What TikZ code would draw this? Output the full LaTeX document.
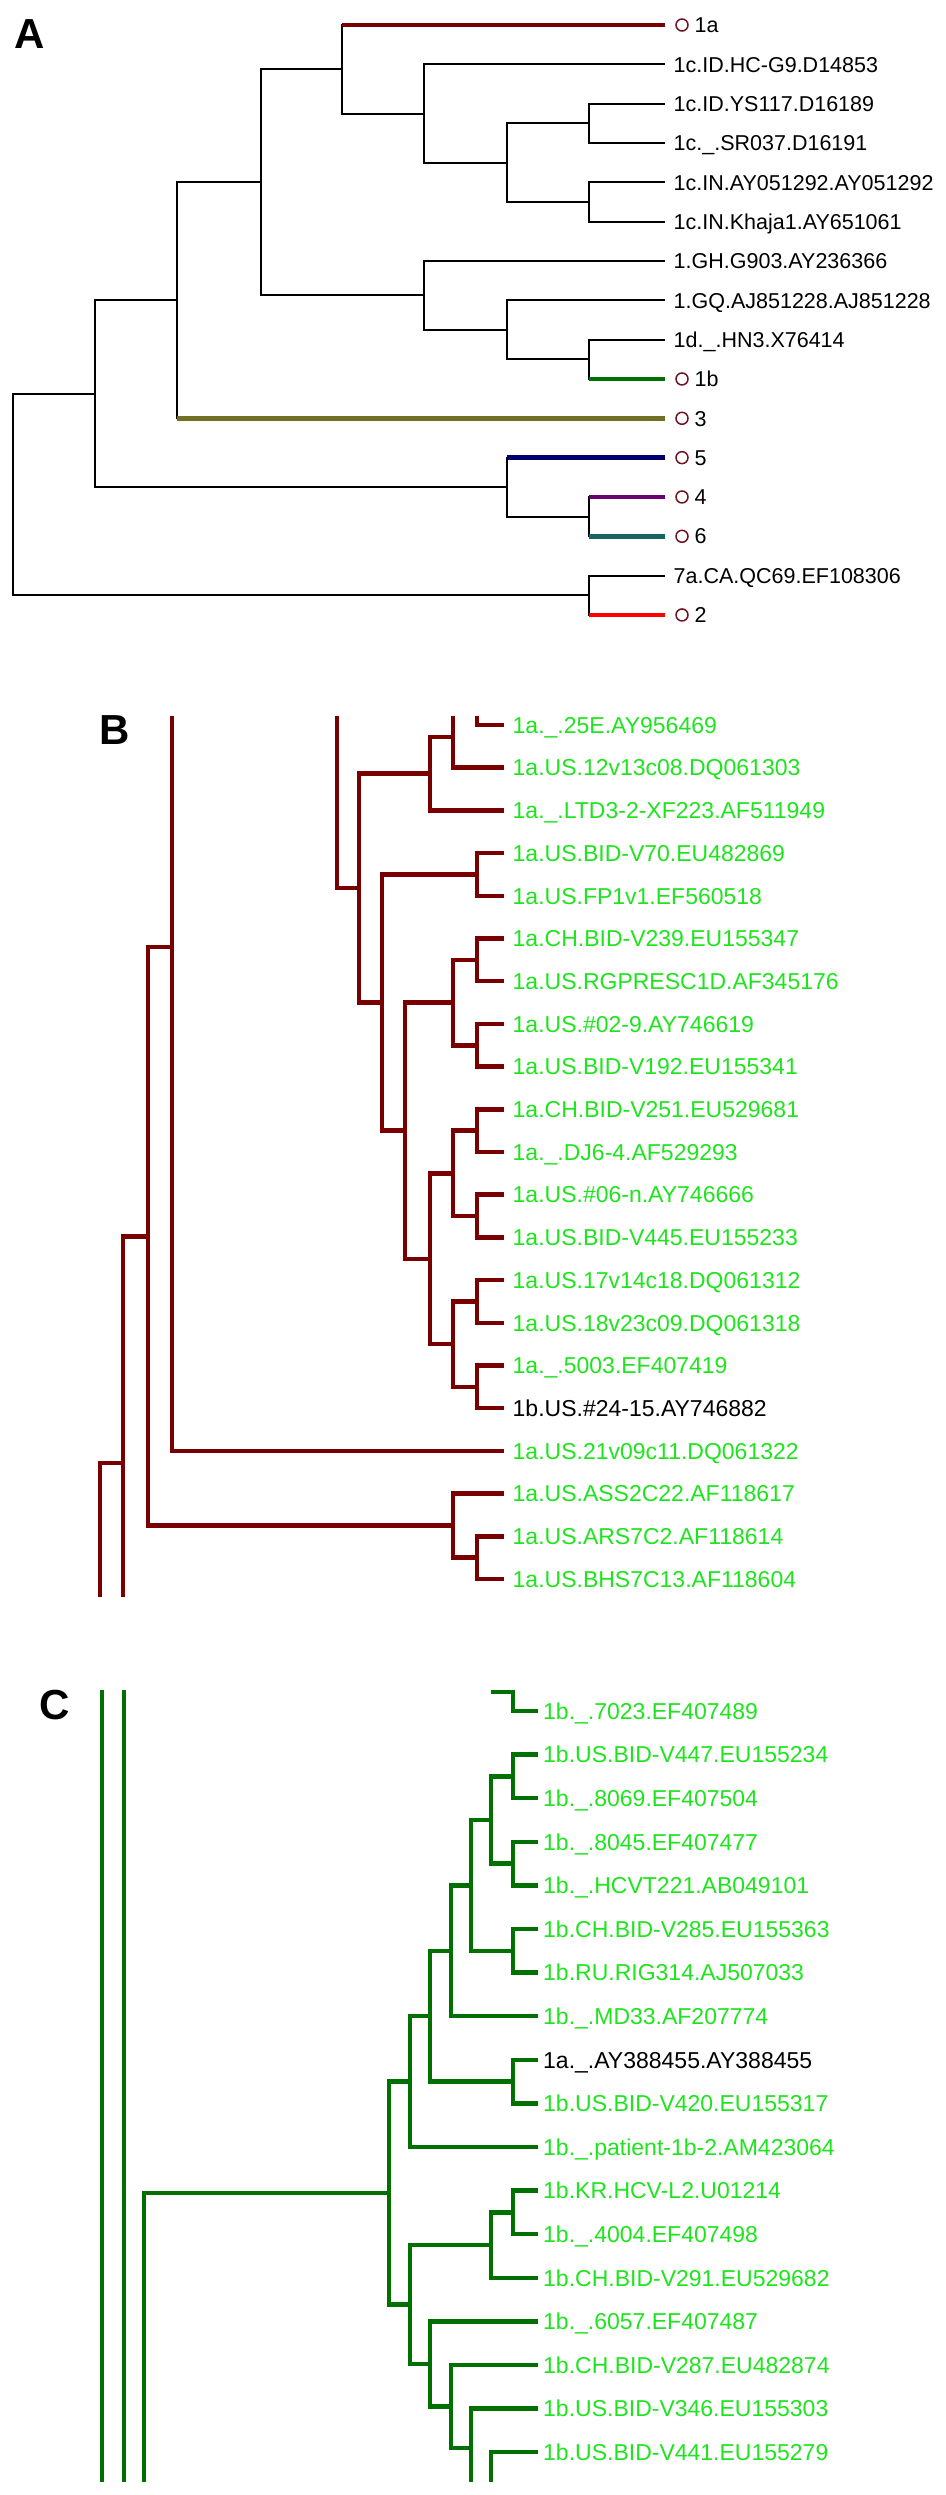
\documentclass[tikz,border=0pt]{standalone}
\usepackage{fontspec}
\setmainfont{Liberation Sans}
\definecolor{gtone}{RGB}{120,0,0}
\definecolor{gtoneb}{RGB}{0,112,0}
\definecolor{gtthree}{RGB}{112,112,36}
\definecolor{gtfive}{RGB}{0,0,110}
\definecolor{gtfour}{RGB}{104,0,112}
\definecolor{gtsix}{RGB}{24,100,100}
\definecolor{gttwo}{RGB}{255,0,0}
\definecolor{ringred}{RGB}{110,20,30}
\definecolor{lblgreen}{RGB}{30,228,30}
\begin{document}
\begin{tikzpicture}[x=1pt,y=-1pt,
 branchA/.style={line width=2pt,black},
 branchfat/.style={line width=4.5pt},
 branchB/.style={branchfat,gtone},
 branchC/.style={branchfat,gtoneb},
 taxa/.style={anchor=west,inner xsep=8.7pt,inner ysep=0pt,outer sep=0pt,text depth=0pt},
 taxa a/.style={taxa,text height=15.4pt,font=\fontsize{21.5}{21.5}\selectfont},
 taxa b/.style={taxa,text height=16.5pt,font=\fontsize{23}{23}\selectfont},
 taxa c/.style={taxa b,inner xsep=5.2pt},
 genotype/.style={taxa a,inner xsep=29.7pt},
 ring/.style={draw=ringred,line width=1.5pt},
 panel/.style={inner sep=0pt,text height=30pt,text depth=0pt,font=\fontsize{42}{42}\selectfont\bfseries}]
\useasboundingbox (0,0) rectangle (945,2495);

\node[panel] (pA) at (30,33) {A};
\node[panel] (pB) at (114.5,729) {B};
\node[panel] (pC) at (55,1704) {C};

\foreach \i/\lbl in {1/1c.ID.HC-G9.D14853,2/1c.ID.YS117.D16189,3/1c.\_.SR037.D16191,4/1c.IN.AY051292.AY051292,5/1c.IN.Khaja1.AY651061,6/1.GH.G903.AY236366,7/1.GQ.AJ851228.AJ851228,8/1d.\_.HN3.X76414,14/7a.CA.QC69.EF108306}
  \node[taxa a] (a\i) at (665,{25+39.33*\i}) {\lbl};
\foreach \i/\lbl in {0/1a,9/1b,10/3,11/5,12/4,13/6,15/2}
  \node[genotype] (a\i) at (665,{25+39.33*\i}) {\lbl};
\foreach \i in {0,9,10,11,12,13,15}
  \draw[ring] ([xshift=17pt]a\i.west) circle (6);

\coordinate (ar) at (13,494.6);
\coordinate (ak1) at (95,393.8);
\coordinate (ak2) at (177,300.3);
\coordinate (ak3) at (261,182.3);
\coordinate (ak4) at (342,69.3);
\coordinate (ak5) at (424,113.5);
\coordinate (ak6) at (507,162.7);
\coordinate (ak7) at (589,123.3);
\coordinate (ak8) at (589,202);
\coordinate (ak9) at (424,295.4);
\coordinate (ak10) at (507,329.8);
\coordinate (ak11) at (589,359.3);
\coordinate (ak12) at (507,487.2);
\coordinate (ak13) at (589,516.7);
\coordinate (ak14) at (589,595.3);

\foreach \p/\c in {ar/ak1,ar/ak14,ak1/ak2,ak1/ak12,ak2/ak3,ak2/a10,ak3/ak4,ak3/ak9,ak4/a0,ak4/ak5,ak5/a1,ak5/ak6,ak6/ak7,ak6/ak8,ak7/a2,ak7/a3,ak8/a4,ak8/a5,ak9/a6,ak9/ak10,ak10/a7,ak10/ak11,ak11/a8,ak11/a9,ak12/a11,ak12/ak13,ak13/a12,ak13/a13,ak14/a14,ak14/a15}
  \draw[branchA] (\p) |- (\c);
\foreach \p/\c/\k in {ak4/a0/gtone,ak11/a9/gtoneb,ak2/a10/gtthree,ak12/a11/gtfive,ak13/a12/gtfour,ak13/a13/gtsix,ak14/a15/gttwo}
  \draw[branchfat,\k] (\p |- \c.west) -- (\c.west);

\foreach \i/\lbl/\k in {0/1a.\_.25E.AY956469/lblgreen,1/1a.US.12v13c08.DQ061303/lblgreen,2/1a.\_.LTD3-2-XF223.AF511949/lblgreen,3/1a.US.BID-V70.EU482869/lblgreen,4/1a.US.FP1v1.EF560518/lblgreen,5/1a.CH.BID-V239.EU155347/lblgreen,6/1a.US.RGPRESC1D.AF345176/lblgreen,7/1a.US.\#02-9.AY746619/lblgreen,8/1a.US.BID-V192.EU155341/lblgreen,9/1a.CH.BID-V251.EU529681/lblgreen,10/1a.\_.DJ6-4.AF529293/lblgreen,11/1a.US.\#06-n.AY746666/lblgreen,12/1a.US.BID-V445.EU155233/lblgreen,13/1a.US.17v14c18.DQ061312/lblgreen,14/1a.US.18v23c09.DQ061318/lblgreen,15/1a.\_.5003.EF407419/lblgreen,16/1b.US.\#24-15.AY746882/black,17/1a.US.21v09c11.DQ061322/lblgreen,18/1a.US.ASS2C22.AF118617/lblgreen,19/1a.US.ARS7C2.AF118614/lblgreen,20/1a.US.BHS7C13.AF118604/lblgreen}
  \node[taxa b,text=\k] (b\i) at (504,{725+42.7*\i}) {\lbl};

\coordinate (bt0) at (337,716);
\coordinate (bt1) at (453,716);
\coordinate (bt2) at (477,716);
\coordinate (bt3) at (172,716);
\coordinate (bt4) at (123,1597);
\coordinate (bt5) at (100,1597);
\coordinate (bk1) at (359,888.2);
\coordinate (bk2) at (382,1002.6);
\coordinate (bk3) at (405,1130.7);
\coordinate (bk4) at (430,773.7);
\coordinate (bk5) at (453,737);
\coordinate (bk6) at (477,874.5);
\coordinate (bk7) at (453,1002.6);
\coordinate (bk8) at (477,959.9);
\coordinate (bk9) at (477,1045.3);
\coordinate (bk10) at (430,1258.8);
\coordinate (bk11) at (453,1173.4);
\coordinate (bk12) at (477,1130.7);
\coordinate (bk13) at (477,1216.1);
\coordinate (bk14) at (453,1344.2);
\coordinate (bk15) at (477,1301.5);
\coordinate (bk16) at (477,1386.9);
\coordinate (bk17) at (172,947);
\coordinate (bk18) at (148,1236.4);
\coordinate (bk19) at (453,1525.7);
\coordinate (bk20) at (477,1557.7);
\coordinate (bk21) at (123,1463);

\foreach \p/\c in {bt2/b0,bt1/b1,bk4/bk5,bk4/b2,bk1/bk4,bk1/bk2,bt0/bk1,bk2/bk6,bk2/bk3,bk6/b3,bk6/b4,bk3/bk7,bk3/bk10,bk7/bk8,bk7/bk9,bk8/b5,bk8/b6,bk9/b7,bk9/b8,bk10/bk11,bk10/bk14,bk11/bk12,bk11/bk13,bk12/b9,bk12/b10,bk13/b11,bk13/b12,bk14/bk15,bk14/bk16,bk15/b13,bk15/b14,bk16/b15,bk16/b16,bt3/b17,bk18/bk17,bk18/bk19,bk19/b18,bk19/bk20,bk20/b19,bk20/b20,bk21/bk18}
  \draw[branchB] (\p) |- (\c);
\draw[branchB] (bt5) |- (bk21) -- (bt4);

\foreach \i/\lbl/\k in {0/1b.\_.7023.EF407489/lblgreen,1/1b.US.BID-V447.EU155234/lblgreen,2/1b.\_.8069.EF407504/lblgreen,3/1b.\_.8045.EF407477/lblgreen,4/1b.\_.HCVT221.AB049101/lblgreen,5/1b.CH.BID-V285.EU155363/lblgreen,6/1b.RU.RIG314.AJ507033/lblgreen,7/1b.\_.MD33.AF207774/lblgreen,8/1a.\_.AY388455.AY388455/black,9/1b.US.BID-V420.EU155317/lblgreen,10/1b.\_.patient-1b-2.AM423064/lblgreen,11/1b.KR.HCV-L2.U01214/lblgreen,12/1b.\_.4004.EF407498/lblgreen,13/1b.CH.BID-V291.EU529682/lblgreen,14/1b.\_.6057.EF407487/lblgreen,15/1b.CH.BID-V287.EU482874/lblgreen,16/1b.US.BID-V346.EU155303/lblgreen,17/1b.US.BID-V441.EU155279/lblgreen}
  \node[taxa c,text=\k] (c\i) at (538,{1711+43.6*\i}) {\lbl};

\coordinate (ct0) at (491,1692);
\coordinate (ct1) at (513,1692);
\coordinate (ct2) at (471,2482);
\coordinate (ct3) at (491,2482);
\coordinate (ct4) at (144,2482);
\coordinate (ct5) at (102,1690);
\coordinate (ct6) at (102,2482);
\coordinate (ct7) at (124,1690);
\coordinate (ct8) at (124,2482);
\coordinate (ck1) at (513,1776.4);
\coordinate (ck2) at (513,1863.6);
\coordinate (ck3) at (491,1820);
\coordinate (ck4) at (513,1950.8);
\coordinate (ck5) at (471,1885.4);
\coordinate (ck6) at (451,1950.8);
\coordinate (ck7) at (513,2081.6);
\coordinate (ck8) at (430,2016.2);
\coordinate (ck9) at (410,2081.6);
\coordinate (ck10) at (513,2212.4);
\coordinate (ck11) at (491,2245.1);
\coordinate (ck12) at (471,2448);
\coordinate (ck13) at (451,2406.5);
\coordinate (ck14) at (430,2364);
\coordinate (ck15) at (410,2304.5);
\coordinate (ck16) at (389,2193);

\foreach \p/\c in {ck3/ck1,ck3/ck2,ck1/c1,ck1/c2,ck2/c3,ck2/c4,ck5/ck3,ck5/ck4,ck4/c5,ck4/c6,ck6/ck5,ck6/c7,ck8/ck6,ck8/ck7,ck7/c8,ck7/c9,ck9/ck8,ck9/c10,ck16/ck9,ck16/ck15,ck15/ck11,ck15/ck14,ck11/ck10,ck11/c13,ck10/c11,ck10/c12,ck14/c14,ck14/ck13,ck13/c15,ck13/ck12,ck12/c16,ct3/c17,ct4/ck16}
  \draw[branchC] (\p) |- (\c);
\draw[branchC] (ct0) -- (ct1) |- (c0);
\draw[branchC] (ck12) -- (ct2);
\draw[branchC] (ct5) -- (ct6);
\draw[branchC] (ct7) -- (ct8);
\end{tikzpicture}
\end{document}
